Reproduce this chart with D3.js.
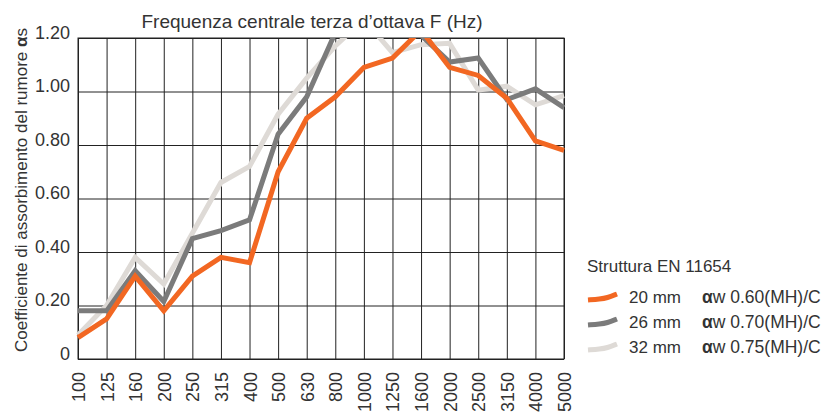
<!DOCTYPE html>
<html>
<head>
<meta charset="utf-8">
<script src="https://cdn.jsdelivr.net/npm/d3@7"></script>
<style>
  body { margin: 0; background: #fff; }
  svg { font-family: "Liberation Sans", Arial, sans-serif; }
</style>
</head>
<body>
<div id="vis"></div>
<script>
// Data
const FREQS = ["100", "125", "160", "200", "250", "315", "400", "500", "630",
               "800", "1000", "1250", "1600", "2000", "2500", "3150", "4000", "5000"];
const ALPHA_20 = [0.08, 0.15, 0.31, 0.18, 0.31, 0.38, 0.36, 0.70, 0.90,
                  0.98, 1.09, 1.125, 1.23, 1.09, 1.06, 0.975, 0.815, 0.78];
const ALPHA_26 = [0.18, 0.18, 0.33, 0.215, 0.45, 0.48, 0.52, 0.84, 0.98,
                  1.22, 1.26, 1.27, 1.21, 1.11, 1.125, 0.97, 1.01, 0.94];
const ALPHA_32 = [0.09, 0.20, 0.38, 0.28, 0.47, 0.66, 0.72, 0.915, 1.05,
                  1.17, 1.27, 1.145, 1.175, 1.18, 1.005, 1.02, 0.95, 0.985];
const Y_TICKS = [0, 0.2, 0.4, 0.6, 0.8, 1.0, 1.2];
const Y_TICK_LABELS = ["0", "0.20", "0.40", "0.60", "0.80", "1.00", "1.20"];
const SERIES_NAMES = ["32 mm", "26 mm", "20 mm"];
const SERIES_RATINGS = ["0.75(MH)/C", "0.70(MH)/C", "0.60(MH)/C"];

// Frame
const FRAME_WIDTH = 822;
const FRAME_HEIGHT = 413;
const PLOT = {left: 78, right: 564, top: 38, bottom: 359};
const COLORS = ["#dedad6", "#7b7b7b", "#f26722"];
const FONT = "'Liberation Sans', Arial, sans-serif";

const FRAME = d3.select("#vis")
                .append("svg")
                .attr("width", FRAME_WIDTH)
                .attr("height", FRAME_HEIGHT);

// Scales
const X_SCALE = d3.scalePoint()
                  .domain(FREQS)
                  .range([PLOT.left, PLOT.right]);

const Y_SCALE = d3.scaleLinear()
                  .domain([0, 1.2])
                  .range([PLOT.bottom, PLOT.top]);

// Horizontal grid + y labels
const yAxis = FRAME.append("g")
      .attr("transform", "translate(" + PLOT.left + ",0)")
      .call(d3.axisLeft(Y_SCALE)
              .tickValues(Y_TICKS)
              .tickSize(-(PLOT.right - PLOT.left))
              .tickPadding(8)
              .tickFormat((d, i) => Y_TICK_LABELS[i]))
      .attr("font-family", FONT)
      .attr("font-size", 18);
yAxis.select(".domain").remove();
yAxis.selectAll(".tick line").attr("stroke", "#222");
yAxis.selectAll(".tick text").attr("dy", "0.02em").attr("fill", "#333");

// Vertical grid + x labels
const xAxis = FRAME.append("g")
      .attr("transform", "translate(0," + PLOT.bottom + ")")
      .call(d3.axisBottom(X_SCALE)
              .tickSize(-(PLOT.bottom - PLOT.top))
              .tickSizeOuter(0))
      .attr("font-family", FONT)
      .attr("font-size", 18);
xAxis.select(".domain").remove();
xAxis.selectAll(".tick line").attr("stroke", "#222");
xAxis.selectAll(".tick text")
     .attr("transform", "rotate(-90)")
     .attr("text-anchor", "end")
     .attr("fill", "#333")
     .attr("x", -13)
     .attr("y", 0)
     .attr("dy", "0.36em");

// Frame border
FRAME.append("rect")
     .attr("x", PLOT.left)
     .attr("y", PLOT.top)
     .attr("width", PLOT.right - PLOT.left)
     .attr("height", PLOT.bottom - PLOT.top)
     .attr("fill", "none")
     .attr("stroke", "#222");

// Clip lines at the top of the plot
FRAME.append("clipPath")
     .attr("id", "plot-clip")
     .append("rect")
     .attr("x", PLOT.left - 5)
     .attr("y", PLOT.top)
     .attr("width", PLOT.right - PLOT.left + 10)
     .attr("height", PLOT.bottom - PLOT.top + 5);

const line = d3.line()
               .x((d, i) => X_SCALE(FREQS[i]))
               .y((d) => Y_SCALE(d));

const lineGroup = FRAME.append("g").attr("clip-path", "url(#plot-clip)");
[ALPHA_32, ALPHA_26, ALPHA_20].forEach((values, i) => {
  lineGroup.append("path")
           .datum(values)
           .attr("d", line)
           .attr("fill", "none")
           .attr("stroke", COLORS[i])
           .attr("stroke-width", 5);
});

// Title
FRAME.append("text")
     .attr("x", 312)
     .attr("y", 28)
     .attr("text-anchor", "middle")
     .attr("font-size", "19px")
     .attr("fill", "#333")
     .text("Frequenza centrale terza d\u2019ottava F (Hz)");

// Y axis title
const yTitle = FRAME.append("text")
     .attr("transform", "translate(26.5,190) rotate(-90)")
     .attr("text-anchor", "middle")
     .attr("font-size", "17px")
     .attr("fill", "#333");
yTitle.append("tspan").text("Coefficiente di assorbimento del rumore ");
yTitle.append("tspan").attr("font-weight", "bold").text("\u03b1");
yTitle.append("tspan").text("s");

// Legend
FRAME.append("text")
     .attr("x", 587)
     .attr("y", 272)
     .attr("font-size", "17px")
     .attr("fill", "#333")
     .text("Struttura EN 11654");

const legendMark = d3.line().curve(d3.curveBasis);
const legendRows = [2, 1, 0];
legendRows.forEach((s, row) => {
  const baseY = 303 + row * 25;
  FRAME.append("path")
       .attr("d", legendMark([[588, baseY - 3], [600, baseY - 4], [607, baseY - 5], [617, baseY - 9]]))
       .attr("fill", "none")
       .attr("stroke", COLORS[s])
       .attr("stroke-width", 5);
  FRAME.append("text")
       .attr("x", 629)
       .attr("y", baseY)
       .attr("font-size", "17px")
       .attr("fill", "#333")
       .text(SERIES_NAMES[s]);
  const rating = FRAME.append("text")
       .attr("x", 702)
       .attr("y", baseY)
       .attr("font-size", "17.5px")
       .attr("fill", "#333");
  rating.append("tspan").attr("font-weight", "bold").text("\u03b1");
  rating.append("tspan").text("w " + SERIES_RATINGS[s]);
});
</script>
</body>
</html>
